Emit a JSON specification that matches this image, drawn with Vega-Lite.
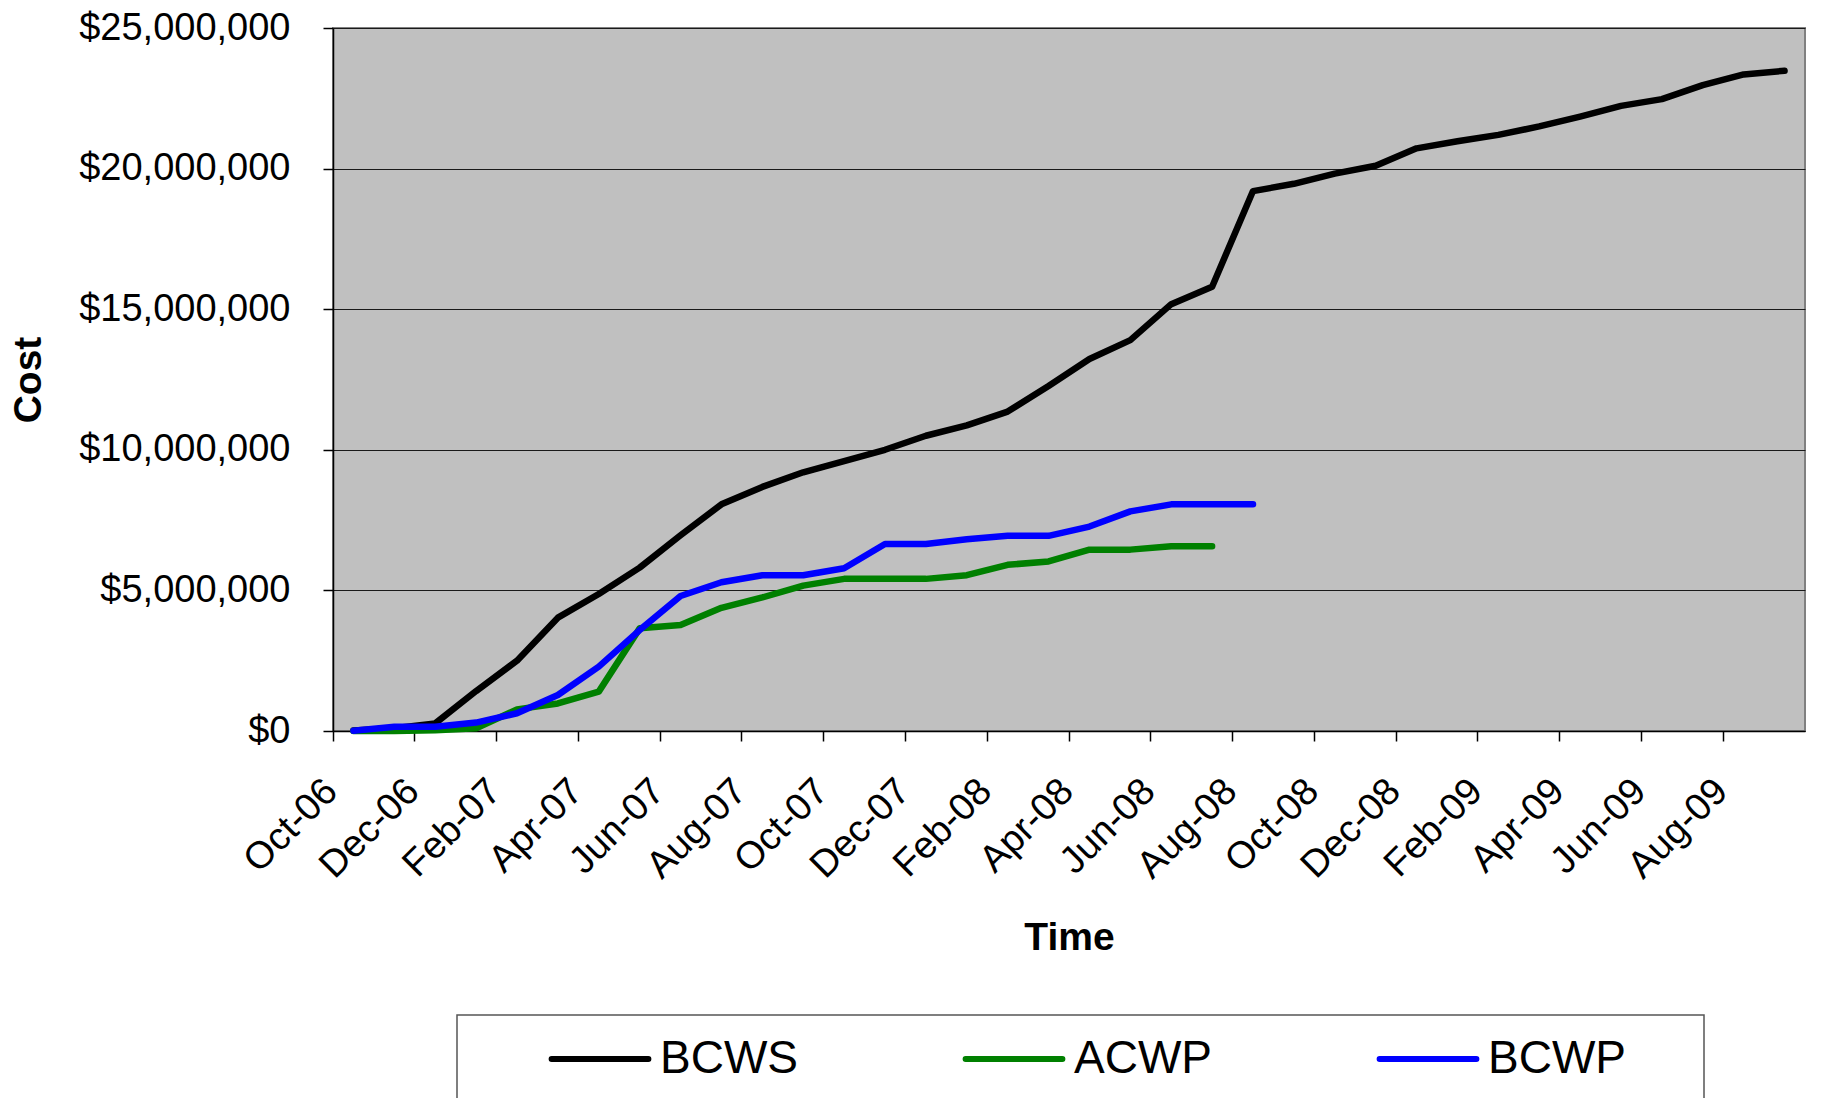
{
  "$schema": "https://vega.github.io/schema/vega-lite/v6.json",
  "autosize": {"type": "none"},
  "width": 1472,
  "height": 703,
  "padding": {"left": 333, "top": 28, "right": 17, "bottom": 367},
  "background": "#ffffff",
  "config": {
    "font": "Liberation Sans",
    "view": {"fill": "#C0C0C0", "stroke": "#808080", "strokeWidth": 2},
    "axis": {"labelFont": "Liberation Sans", "titleFont": "Liberation Sans", "labelColor": "#000000", "titleColor": "#000000"}
  },
  "data": {"values": [
    {"month": "Oct-06", "series": "BCWS", "cost": 20000},
    {"month": "Nov-06", "series": "BCWS", "cost": 100000},
    {"month": "Dec-06", "series": "BCWS", "cost": 270000},
    {"month": "Jan-07", "series": "BCWS", "cost": 1420000},
    {"month": "Feb-07", "series": "BCWS", "cost": 2500000},
    {"month": "Mar-07", "series": "BCWS", "cost": 4030000},
    {"month": "Apr-07", "series": "BCWS", "cost": 4870000},
    {"month": "May-07", "series": "BCWS", "cost": 5810000},
    {"month": "Jun-07", "series": "BCWS", "cost": 6960000},
    {"month": "Jul-07", "series": "BCWS", "cost": 8060000},
    {"month": "Aug-07", "series": "BCWS", "cost": 8680000},
    {"month": "Sep-07", "series": "BCWS", "cost": 9200000},
    {"month": "Oct-07", "series": "BCWS", "cost": 9600000},
    {"month": "Nov-07", "series": "BCWS", "cost": 10000000},
    {"month": "Dec-07", "series": "BCWS", "cost": 10500000},
    {"month": "Jan-08", "series": "BCWS", "cost": 10870000},
    {"month": "Feb-08", "series": "BCWS", "cost": 11360000},
    {"month": "Mar-08", "series": "BCWS", "cost": 12270000},
    {"month": "Apr-08", "series": "BCWS", "cost": 13230000},
    {"month": "May-08", "series": "BCWS", "cost": 13900000},
    {"month": "Jun-08", "series": "BCWS", "cost": 15180000},
    {"month": "Jul-08", "series": "BCWS", "cost": 15800000},
    {"month": "Aug-08", "series": "BCWS", "cost": 19200000},
    {"month": "Sep-08", "series": "BCWS", "cost": 19460000},
    {"month": "Oct-08", "series": "BCWS", "cost": 19820000},
    {"month": "Nov-08", "series": "BCWS", "cost": 20100000},
    {"month": "Dec-08", "series": "BCWS", "cost": 20720000},
    {"month": "Jan-09", "series": "BCWS", "cost": 20970000},
    {"month": "Feb-09", "series": "BCWS", "cost": 21200000},
    {"month": "Mar-09", "series": "BCWS", "cost": 21500000},
    {"month": "Apr-09", "series": "BCWS", "cost": 21850000},
    {"month": "May-09", "series": "BCWS", "cost": 22230000},
    {"month": "Jun-09", "series": "BCWS", "cost": 22470000},
    {"month": "Jul-09", "series": "BCWS", "cost": 22970000},
    {"month": "Aug-09", "series": "BCWS", "cost": 23350000},
    {"month": "Sep-09", "series": "BCWS", "cost": 23480000},
    {"month": "Oct-06", "series": "ACWP", "cost": 0},
    {"month": "Nov-06", "series": "ACWP", "cost": 0},
    {"month": "Dec-06", "series": "ACWP", "cost": 30000},
    {"month": "Jan-07", "series": "ACWP", "cost": 100000},
    {"month": "Feb-07", "series": "ACWP", "cost": 770000},
    {"month": "Mar-07", "series": "ACWP", "cost": 980000},
    {"month": "Apr-07", "series": "ACWP", "cost": 1400000},
    {"month": "May-07", "series": "ACWP", "cost": 3650000},
    {"month": "Jun-07", "series": "ACWP", "cost": 3770000},
    {"month": "Jul-07", "series": "ACWP", "cost": 4380000},
    {"month": "Aug-07", "series": "ACWP", "cost": 4750000},
    {"month": "Sep-07", "series": "ACWP", "cost": 5170000},
    {"month": "Oct-07", "series": "ACWP", "cost": 5410000},
    {"month": "Nov-07", "series": "ACWP", "cost": 5410000},
    {"month": "Dec-07", "series": "ACWP", "cost": 5410000},
    {"month": "Jan-08", "series": "ACWP", "cost": 5540000},
    {"month": "Feb-08", "series": "ACWP", "cost": 5910000},
    {"month": "Mar-08", "series": "ACWP", "cost": 6030000},
    {"month": "Apr-08", "series": "ACWP", "cost": 6450000},
    {"month": "May-08", "series": "ACWP", "cost": 6450000},
    {"month": "Jun-08", "series": "ACWP", "cost": 6570000},
    {"month": "Jul-08", "series": "ACWP", "cost": 6570000},
    {"month": "Oct-06", "series": "BCWP", "cost": 10000},
    {"month": "Nov-06", "series": "BCWP", "cost": 150000},
    {"month": "Dec-06", "series": "BCWP", "cost": 150000},
    {"month": "Jan-07", "series": "BCWP", "cost": 300000},
    {"month": "Feb-07", "series": "BCWP", "cost": 630000},
    {"month": "Mar-07", "series": "BCWP", "cost": 1280000},
    {"month": "Apr-07", "series": "BCWP", "cost": 2290000},
    {"month": "May-07", "series": "BCWP", "cost": 3590000},
    {"month": "Jun-07", "series": "BCWP", "cost": 4800000},
    {"month": "Jul-07", "series": "BCWP", "cost": 5290000},
    {"month": "Aug-07", "series": "BCWP", "cost": 5540000},
    {"month": "Sep-07", "series": "BCWP", "cost": 5540000},
    {"month": "Oct-07", "series": "BCWP", "cost": 5790000},
    {"month": "Nov-07", "series": "BCWP", "cost": 6650000},
    {"month": "Dec-07", "series": "BCWP", "cost": 6650000},
    {"month": "Jan-08", "series": "BCWP", "cost": 6820000},
    {"month": "Feb-08", "series": "BCWP", "cost": 6940000},
    {"month": "Mar-08", "series": "BCWP", "cost": 6940000},
    {"month": "Apr-08", "series": "BCWP", "cost": 7270000},
    {"month": "May-08", "series": "BCWP", "cost": 7810000},
    {"month": "Jun-08", "series": "BCWP", "cost": 8060000},
    {"month": "Jul-08", "series": "BCWP", "cost": 8060000},
    {"month": "Aug-08", "series": "BCWP", "cost": 8060000}
  ]},
  "mark": {"type": "line", "strokeWidth": 6.5, "strokeJoin": "round", "strokeCap": "round"},
  "encoding": {
    "x": {
      "field": "month",
      "type": "ordinal",
      "bandPosition": 0.5,
      "scale": {
        "type": "band",
        "paddingInner": 0,
        "paddingOuter": 0,
        "domain": ["Oct-06","Nov-06","Dec-06","Jan-07","Feb-07","Mar-07","Apr-07","May-07","Jun-07","Jul-07","Aug-07","Sep-07","Oct-07","Nov-07","Dec-07","Jan-08","Feb-08","Mar-08","Apr-08","May-08","Jun-08","Jul-08","Aug-08","Sep-08","Oct-08","Nov-08","Dec-08","Jan-09","Feb-09","Mar-09","Apr-09","May-09","Jun-09","Jul-09","Aug-09","Sep-09"]
      },
      "axis": {
        "title": "Time",
        "titleFontSize": 39,
        "titleFontWeight": "bold",
        "titlePadding": 33,
        "values": ["Oct-06","Dec-06","Feb-07","Apr-07","Jun-07","Aug-07","Oct-07","Dec-07","Feb-08","Apr-08","Jun-08","Aug-08","Oct-08","Dec-08","Feb-09","Apr-09","Jun-09","Aug-09"],
        "bandPosition": 0,
        "labelAngle": -45,
        "labelAlign": "right",
        "labelBaseline": "alphabetic",
        "labelFontSize": 38,
        "labelPadding": 52,
        "labelOffset": -14,
        "labelOverlap": false,
        "labelBound": false,
        "labelFlush": false,
        "labelLimit": 500,
        "tickSize": 10,
        "tickColor": "#000000",
        "tickWidth": 1.5,
        "domainColor": "#000000",
        "domainWidth": 1.5,
        "grid": false
      }
    },
    "y": {
      "field": "cost",
      "type": "quantitative",
      "scale": {"domain": [0, 25000000], "nice": false},
      "axis": {
        "title": "Cost",
        "titleFontSize": 39,
        "titleFontWeight": "bold",
        "titlePadding": 85,
        "values": [0, 5000000, 10000000, 15000000, 20000000, 25000000],
        "format": "$,.0f",
        "labelFontSize": 38,
        "labelPadding": 33,
        "labelLimit": 500,
        "labelBaseline": "middle",
        "tickSize": 10,
        "tickColor": "#000000",
        "tickWidth": 1.5,
        "domainColor": "#000000",
        "domainWidth": 1.5,
        "grid": true,
        "gridColor": "#1a1a1a",
        "gridWidth": 1
      }
    },
    "color": {
      "field": "series",
      "type": "nominal",
      "scale": {"domain": ["BCWS", "ACWP", "BCWP"], "range": ["#000000", "#008000", "#0000FF"]},
      "legend": {
        "orient": "none",
        "legendX": 124,
        "legendY": 987,
        "direction": "horizontal",
        "title": null,
        "padding": 19,
        "strokeColor": "#555555",
        "fillColor": "#ffffff",
        "symbolType": "M-2.2,0H2.2",
        "symbolSize": 1936,
        "symbolStrokeWidth": 6,
        "symbolOffset": 99,
        "labelFont": "Liberation Sans",
        "labelFontSize": 46,
        "labelColor": "#000000",
        "labelOffset": 35,
        "labelLimit": 600,
        "columnPadding": 92,
        "labelExpr": "datum.label == 'BCWP' ? 'BCWP\u2002\u2002\u00a0\u200b' : datum.label",
        "encode": {
          "symbols": {"update": {"strokeCap": {"value": "round"}}},
          "legend": {"update": {"strokeWidth": {"value": 1.5}}}
        }
      }
    }
  }
}
